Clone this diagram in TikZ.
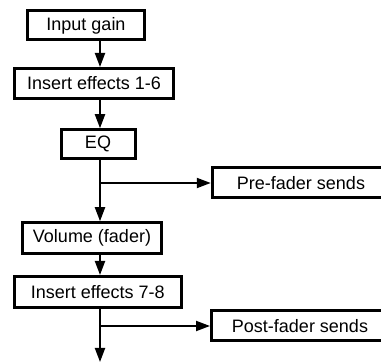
\documentclass[tikz,border=0pt]{standalone}
\usepackage{fontspec}
\setmainfont{Liberation Sans}
\usepackage{tikz}
\usetikzlibrary{arrows.meta,positioning,calc}

\begin{document}
\begin{tikzpicture}[x=0.5pt,y=-0.5pt,
    stage/.style={draw,line width=1.5pt,inner sep=0pt,font=\fontsize{9}{11}\selectfont},
    flow/.style={line width=1pt,-{Triangle[length=7pt,width=5pt]}}]
            % Frame of the picture (send boxes run off the right edge)
            \useasboundingbox (0,0) rectangle (381,363);
            \clip (0,0) rectangle (381,363);
            \coordinate (trunk) at (100,0);

            % Main chain
            \node[stage,minimum width=58.75pt,minimum height=14.5pt] (ingain) at (86,25.5) {Input gain};
            \node[stage,minimum width=79.5pt,minimum height=15pt] (ins1) at (94,83.5) {Insert effects 1-6};
            \node[stage,minimum width=37pt,minimum height=14.25pt] (eq) at (98,144) {EQ};
            \node[stage,minimum width=69.75pt,minimum height=15.25pt] (vol) at (92,238) {Volume (fader)};
            \node[stage,minimum width=83.35pt,minimum height=15.5pt] (ins2) at (97.7,292) {Insert effects 7-8};

            % Sends
            \node[stage,minimum width=88.75pt,minimum height=15pt] (pre) at (301,183) {Pre-fader sends};
            \node[stage,minimum width=88.5pt,minimum height=15pt] (post) at (300,326) {Post-fader sends};

            % Signal flow down the trunk
            \draw[flow] (ingain.south -| trunk) -- (ins1.north -| trunk);
            \draw[flow] (ins1.south -| trunk) -- (eq.north -| trunk);
            \draw[flow] (eq.south -| trunk) -- (vol.north -| trunk);
            \draw[flow] (vol.south -| trunk) -- (ins2.north -| trunk);
            \coordinate (out) at (100,362);
            \draw[flow] (ins2.south -| trunk) -- (out);

            % Branches to the sends
            \coordinate (br1) at (pre.west -| trunk);
            \coordinate (br2) at (post.west -| trunk);
            \draw[flow] (br1) -- (pre.west);
            \draw[flow] (br2) -- (post.west);
        \end{tikzpicture}
\end{document}
